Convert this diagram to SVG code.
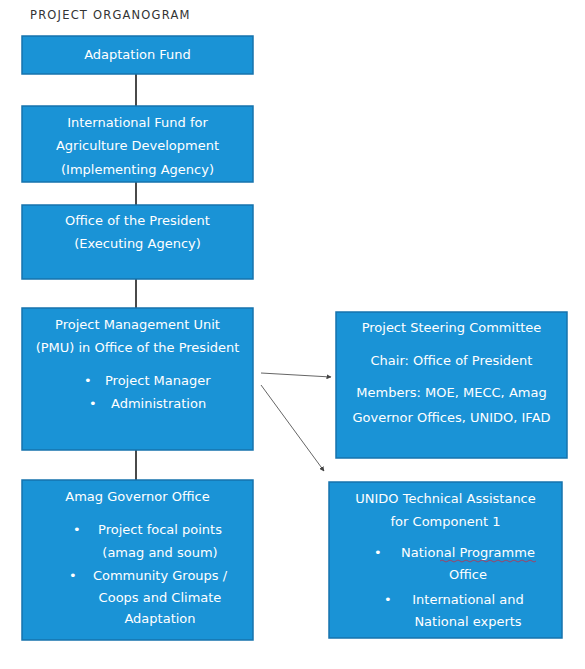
<svg xmlns="http://www.w3.org/2000/svg" width="585" height="669" viewBox="0 0 585 669">
<style>
.box{fill:#1a93d6;stroke:#1673ad;stroke-width:1.5}
.t{font-family:"DejaVu Sans","Liberation Sans",sans-serif;font-size:13px;fill:#ffffff;text-anchor:middle}
.l{font-family:"DejaVu Sans","Liberation Sans",sans-serif;font-size:13px;fill:#ffffff;text-anchor:start}
.title{font-family:"DejaVu Sans","Liberation Sans",sans-serif;font-size:11.5px;fill:#333333;letter-spacing:1.2px}
.conn{stroke:#4a4a4a;stroke-width:2;fill:none}
.arr{stroke:#666666;stroke-width:1;fill:none;marker-end:url(#ah)}
</style>
<defs>
<marker id="ah" viewBox="0 0 10 10" refX="9" refY="5" markerWidth="5" markerHeight="5" orient="auto">
<path d="M0,0 L10,5 L0,10 z" fill="#444444"/>
</marker>
</defs>
<rect width="585" height="669" fill="#ffffff"/>
<text class="title" x="30" y="19">PROJECT ORGANOGRAM</text>

<g id="connectors">
<line class="conn" x1="136" y1="74" x2="136" y2="106"/>
<line class="conn" x1="136" y1="182" x2="136" y2="205"/>
<line class="conn" x1="136" y1="279" x2="136" y2="308"/>
<line class="conn" x1="136" y1="450" x2="136" y2="480"/>
<line class="arr" x1="261" y1="373" x2="331" y2="377"/>
<line class="arr" x1="261" y1="385" x2="324" y2="471"/>
</g>

<g id="adaptation-fund">
<rect class="box" x="22" y="36" width="231" height="38"/>
<text class="t" x="137.5" y="59">Adaptation Fund</text>
</g>

<g id="ifad">
<rect class="box" x="22" y="106" width="231" height="76"/>
<text class="t" x="137.5" y="127">International Fund for</text>
<text class="t" x="137.5" y="150">Agriculture Development</text>
<text class="t" x="137.5" y="174">(Implementing Agency)</text>
</g>

<g id="office-president">
<rect class="box" x="22" y="205" width="231" height="74"/>
<text class="t" x="137.5" y="225">Office of the President</text>
<text class="t" x="137.5" y="248">(Executing Agency)</text>
</g>

<g id="pmu">
<rect class="box" x="22" y="308" width="231" height="142"/>
<text class="t" x="137.5" y="329">Project Management Unit</text>
<text class="t" x="137.5" y="352">(PMU) in Office of the President</text>
<text class="l" x="84" y="385">•</text>
<text class="l" x="105" y="385">Project Manager</text>
<text class="l" x="89" y="408">•</text>
<text class="l" x="111" y="408">Administration</text>
</g>

<g id="amag-governor">
<rect class="box" x="22" y="480" width="231" height="160"/>
<text class="t" x="137.5" y="501">Amag Governor Office</text>
<text class="l" x="73" y="534">•</text>
<text class="t" x="160" y="534">Project focal points</text>
<text class="t" x="160" y="557">(amag and soum)</text>
<text class="l" x="69" y="580">•</text>
<text class="t" x="160" y="580">Community Groups /</text>
<text class="t" x="160" y="602">Coops and Climate</text>
<text class="t" x="160" y="623">Adaptation</text>
</g>

<g id="steering-committee">
<rect class="box" x="336" y="312" width="231" height="146"/>
<text class="t" x="451.5" y="332">Project Steering Committee</text>
<text class="t" x="451.5" y="365">Chair: Office of President</text>
<text class="t" x="451.5" y="397">Members: MOE, MECC, Amag</text>
<text class="t" x="451.5" y="422">Governor Offices, UNIDO, IFAD</text>
</g>

<g id="unido">
<rect class="box" x="329" y="482" width="233" height="156"/>
<text class="t" x="445.5" y="503">UNIDO Technical Assistance</text>
<text class="t" x="445.5" y="526">for Component 1</text>
<text class="l" x="374" y="557">•</text>
<text class="t" x="468" y="557">National Programme</text>
<path d="M440,561 q2,-2 4,0 t4,0 t4,0 t4,0 t4,0 t4,0 t4,0 t4,0 t4,0 t4,0 t4,0 t4,0 t4,0 t4,0 t4,0 t4,0 t4,0 t4,0 t4,0 t4,0 t4,0 t4,0 t4,0 t4,0" fill="none" stroke="#c0304a" stroke-width="0.8"/>
<text class="t" x="468" y="579">Office</text>
<text class="l" x="384" y="604">•</text>
<text class="t" x="468" y="604">International and</text>
<text class="t" x="468" y="626">National experts</text>
</g>
</svg>
